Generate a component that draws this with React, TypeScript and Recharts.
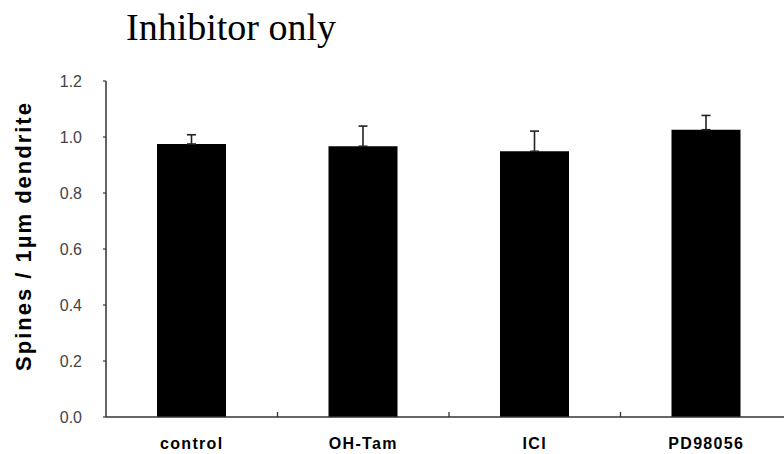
import React from "react"
import { BarChart, Bar, XAxis, YAxis, ErrorBar } from "recharts"

const categories = ["control", "OH-Tam", "ICI", "PD98056"]
const means = [0.975, 0.967, 0.949, 1.026]
const sems = [0.033, 0.072, 0.072, 0.051]
const yTicks = [0, 0.2, 0.4, 0.6, 0.8, 1.0, 1.2]

const data = categories.map((name, i) => ({
  name,
  value: means[i],
  // upward-only error bar
  err: [0, sems[i]],
}))

const sans = "'Liberation Sans', Arial, sans-serif"

const CHART_W = 800
const Y_AXIS_W = 106
const MARGIN_R = 8
const HALF_BAND = (CHART_W - Y_AXIS_W - MARGIN_R) / categories.length / 2

// rotated y label, placed by hand to sit like the original
function YLabel() {
  return (
    <text
      x={31}
      y={236}
      transform="rotate(-90, 31, 236)"
      textAnchor="middle"
      fontFamily={sans}
      fontWeight="bold"
      fontSize={22}
      letterSpacing={2}
      fill="#000"
    >
      Spines / 1µm dendrite
    </text>
  )
}

// category label + small upward tick on the band's right edge
function CatTick(props: any) {
  const { x, y, payload } = props
  const last = payload.value === categories[categories.length - 1]
  return (
    <g>
      {!last && (
        <line
          x1={x + HALF_BAND}
          y1={y}
          x2={x + HALF_BAND}
          y2={y - 5}
          stroke="#333"
          strokeWidth={1.3}
        />
      )}
      <text
        x={x}
        y={y + 21}
        dy="0.71em"
        textAnchor="middle"
        fontFamily={sans}
        fontSize={16}
        fontWeight="bold"
        letterSpacing={1.3}
        fill="#000"
      >
        {payload.value}
      </text>
    </g>
  )
}

function ValTick(props: any) {
  const { x, y, payload } = props
  return (
    <text
      x={x}
      y={y}
      dy="0.36em"
      textAnchor="end"
      fontFamily={sans}
      fontSize={16}
      fill="#444"
    >
      {Number(payload.value).toFixed(1)}
    </text>
  )
}

export default function App() {
  return (
    <div
      style={{
        position: "absolute",
        left: 0,
        top: 0,
        width: 784,
        height: 454,
        overflow: "hidden",
        background: "#fff",
      }}
    >
      <div
        style={{
          position: "absolute",
          left: 126,
          top: 8,
          fontFamily: "'Liberation Serif', 'Times New Roman', serif",
          fontSize: 38,
          lineHeight: 1,
          color: "#000",
          whiteSpace: "nowrap",
        }}
      >
        Inhibitor only
      </div>
      <BarChart
        width={CHART_W}
        height={454}
        data={data}
        margin={{ top: 81, right: MARGIN_R, left: 0, bottom: 0 }}
      >
        <XAxis
          dataKey="name"
          height={37}
          axisLine={{ stroke: "#333", strokeWidth: 1.5 }}
          tickLine={false}
          tickSize={0}
          tickMargin={0}
          interval={0}
          tick={<CatTick />}
        />
        <YAxis
          width={Y_AXIS_W}
          domain={[0, 1.2]}
          ticks={yTicks}
          interval={0}
          axisLine={{ stroke: "#333", strokeWidth: 1.5 }}
          tickLine={{ stroke: "#333", strokeWidth: 1.2 }}
          tickSize={3}
          tickMargin={21}
          tick={<ValTick />}
          label={<YLabel />}
        />
        <Bar dataKey="value" fill="#000" barSize={69} isAnimationActive={false}>
          <ErrorBar
            dataKey="err"
            width={4.5}
            stroke="#222"
            strokeWidth={1.6}
            direction="y"
          />
        </Bar>
      </BarChart>
    </div>
  )
}
